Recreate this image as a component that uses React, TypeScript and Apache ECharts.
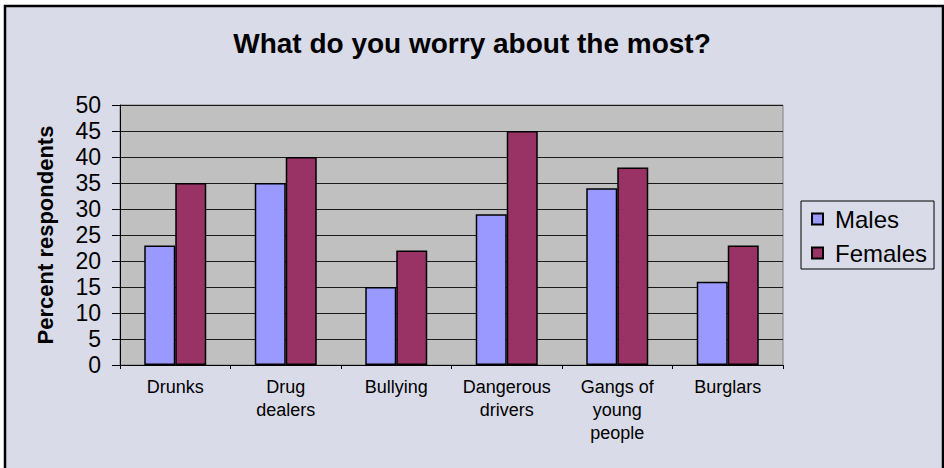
import React, { useEffect, useRef } from "react";
import * as echarts from "echarts";

const categories = [
  "Drunks",
  "Drug\ndealers",
  "Bullying",
  "Dangerous\ndrivers",
  "Gangs of\nyoung\npeople",
  "Burglars",
];
const males = [23, 35, 15, 29, 34, 16];
const females = [35, 40, 22, 45, 38, 23];
const titleText = "What do you worry about the most?";
const yAxisName = "Percent respondents";

export default function App() {
  const ref = useRef<HTMLDivElement>(null);
  useEffect(() => {
    if (!ref.current) return;
    const chart = echarts.init(ref.current, undefined, { renderer: "svg" });
    const font = "Liberation Sans, Arial, sans-serif";
    chart.setOption({
      animation: false,
      backgroundColor: "#ffffff",
      textStyle: { fontFamily: font },
      graphic: [
        {
          type: "rect",
          z: -10,
          silent: true,
          shape: { x: 5, y: 6, width: 938, height: 470 },
          style: { fill: "#d9dbe8", stroke: "#000000", lineWidth: 2.5 },
        },
      ],
      title: {
        text: titleText,
        left: "center",
        top: 24,
        textStyle: { fontSize: 28, fontWeight: "bold", color: "#000", fontFamily: font },
      },
      legend: {
        orient: "vertical",
        left: 801,
        top: 201,
        padding: [6, 7, 4, 10],
        itemWidth: 11,
        itemHeight: 11,
        itemGap: 10,
        borderColor: "#000",
        borderWidth: 1,
        icon: "rect",
        textStyle: { fontSize: 24, lineHeight: 24, color: "#000", fontFamily: font, padding: [0, 0, 0, 7] },
        data: ["Males", "Females"],
      },
      grid: {
        left: 120,
        top: 105,
        right: 161,
        bottom: 103,
        show: true,
        backgroundColor: "#c0c0c0",
        borderColor: "#808080",
        borderWidth: 1,
      },
      xAxis: {
        type: "category",
        data: categories,
        axisLine: { lineStyle: { color: "#000", width: 1 } },
        axisTick: { show: true, length: 4, lineStyle: { color: "#000" } },
        axisLabel: { fontSize: 18, lineHeight: 23, color: "#000", margin: 10, interval: 0, fontFamily: font },
      },
      yAxis: {
        type: "value",
        min: 0,
        max: 50,
        interval: 5,
        name: yAxisName,
        nameLocation: "middle",
        nameGap: 64,
        nameTextStyle: { fontSize: 22, fontWeight: "bold", color: "#000", fontFamily: font },
        axisLine: { show: true, lineStyle: { color: "#000", width: 1 } },
        axisTick: { show: true, length: 8, lineStyle: { color: "#000" } },
        axisLabel: { fontSize: 23, color: "#000", margin: 19, fontFamily: font },
        splitLine: { lineStyle: { color: "#1a1a1a", width: 1 } },
      },
      series: [
        {
          name: "Males",
          type: "bar",
          data: males,
          barWidth: 31,
          barGap: "0%",
          itemStyle: { color: "#9999ff", borderColor: "#000", borderWidth: 1.5 },
        },
        {
          name: "Females",
          type: "bar",
          data: females,
          barWidth: 31,
          barGap: "0%",
          itemStyle: { color: "#993366", borderColor: "#000", borderWidth: 1.5 },
        },
      ],
    });
    return () => chart.dispose();
  }, []);
  return (
    <div
      ref={ref}
      style={{ position: "fixed", left: 0, top: 0, width: 944, height: 468 }}
    />
  );
}
